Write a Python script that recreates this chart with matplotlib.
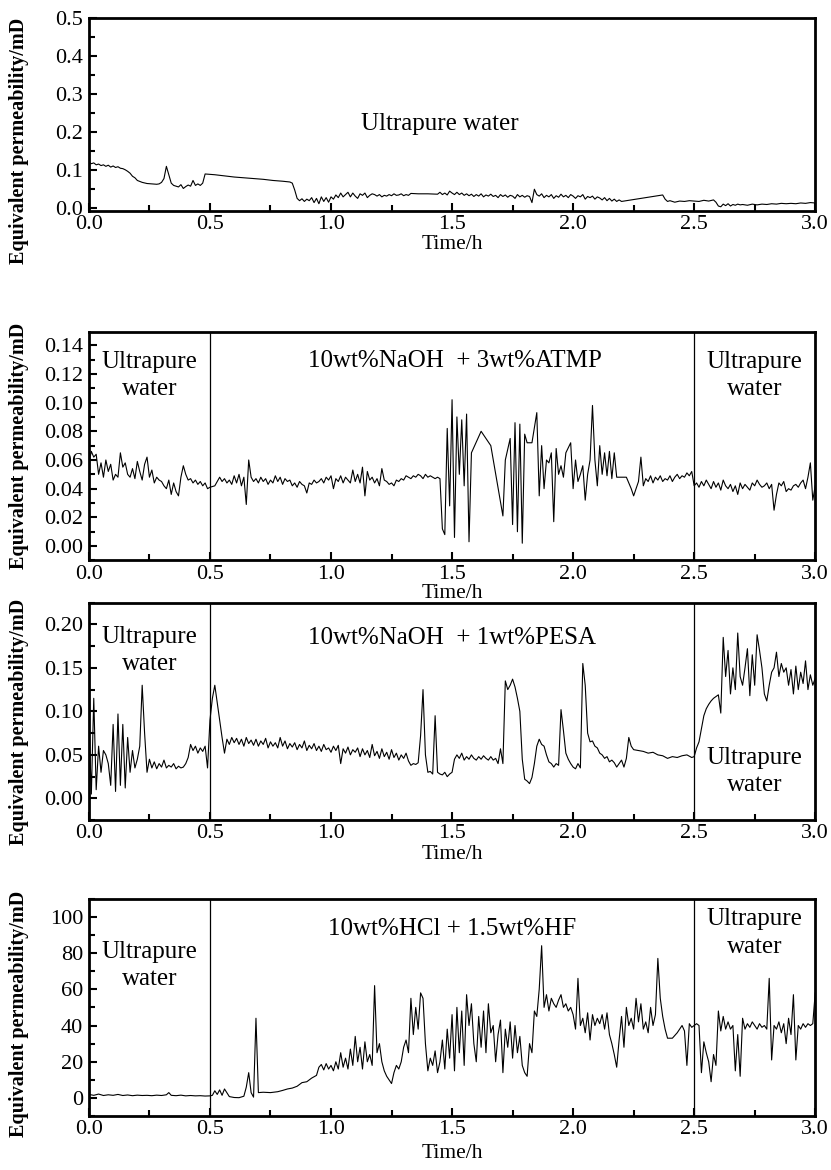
import matplotlib
matplotlib.use("Agg")
import matplotlib.pyplot as plt
from matplotlib.ticker import MultipleLocator

plt.rcParams['font.family'] = ['Liberation Serif', 'DejaVu Serif']

# ---- panel 1: ultrapure water only
t1 = [0.00, 0.01, 0.02, 0.03, 0.04, 0.05, 0.06, 0.07, 0.08, 0.09, 0.10, 0.11, 0.12, 0.13, 0.14,
      0.15, 0.16, 0.17, 0.18, 0.19, 0.20, 0.22, 0.24, 0.26, 0.28, 0.29, 0.30, 0.31, 0.32, 0.33,
      0.34, 0.35, 0.36, 0.37, 0.38, 0.39, 0.40, 0.41, 0.42, 0.43, 0.44, 0.45, 0.46, 0.47, 0.48,
      0.52, 0.56, 0.60, 0.64, 0.68, 0.72, 0.76, 0.80, 0.83, 0.84, 0.85, 0.86, 0.87, 0.88, 0.89,
      0.90, 0.91, 0.92, 0.93, 0.94, 0.95, 0.96, 0.97, 0.98, 0.99, 1.00, 1.01, 1.02, 1.03, 1.04,
      1.05, 1.06, 1.07, 1.08, 1.09, 1.10, 1.11, 1.12, 1.13, 1.14, 1.15, 1.16, 1.17, 1.18, 1.19,
      1.20, 1.21, 1.22, 1.23, 1.24, 1.25, 1.26, 1.27, 1.28, 1.29, 1.30, 1.31, 1.32, 1.33, 1.36,
      1.40, 1.44, 1.45, 1.46, 1.47, 1.48, 1.49, 1.50, 1.51, 1.52, 1.53, 1.54, 1.55, 1.56, 1.57,
      1.58, 1.59, 1.60, 1.61, 1.62, 1.63, 1.64, 1.65, 1.66, 1.67, 1.68, 1.69, 1.70, 1.71, 1.72,
      1.73, 1.74, 1.75, 1.76, 1.77, 1.78, 1.79, 1.80, 1.81, 1.82, 1.83, 1.84, 1.85, 1.86, 1.87,
      1.88, 1.89, 1.90, 1.91, 1.92, 1.93, 1.94, 1.95, 1.96, 1.97, 1.98, 1.99, 2.00, 2.01, 2.02,
      2.03, 2.04, 2.05, 2.06, 2.07, 2.08, 2.09, 2.10, 2.11, 2.12, 2.13, 2.14, 2.15, 2.16, 2.17,
      2.18, 2.19, 2.20, 2.25, 2.30, 2.35, 2.37, 2.38, 2.39, 2.40, 2.42, 2.44, 2.46, 2.48, 2.50,
      2.52, 2.54, 2.56, 2.58, 2.59, 2.60, 2.61, 2.62, 2.63, 2.64, 2.65, 2.66, 2.67, 2.68, 2.69,
      2.70, 2.72, 2.74, 2.76, 2.78, 2.80, 2.82, 2.84, 2.86, 2.88, 2.90, 2.92, 2.94, 2.96, 2.98, 3.00]
v1 = [0.121, 0.117, 0.119, 0.114, 0.116, 0.112, 0.114, 0.110, 0.113, 0.108, 0.111, 0.107, 0.109, 0.105, 0.104,
      0.101, 0.097, 0.092, 0.084, 0.080, 0.073, 0.068, 0.065, 0.064, 0.063, 0.064, 0.068, 0.078, 0.110, 0.088,
      0.066, 0.060, 0.058, 0.056, 0.062, 0.052, 0.057, 0.061, 0.058, 0.073, 0.060, 0.064, 0.060, 0.066, 0.090,
      0.088, 0.085, 0.082, 0.080, 0.078, 0.076, 0.073, 0.071, 0.069, 0.066, 0.048, 0.026, 0.020, 0.025, 0.018,
      0.024, 0.020, 0.028, 0.015, 0.026, 0.012, 0.030, 0.018, 0.028, 0.016, 0.030, 0.024, 0.035, 0.028, 0.040,
      0.030, 0.036, 0.042, 0.030, 0.040, 0.032, 0.026, 0.038, 0.034, 0.040, 0.028, 0.034, 0.038, 0.036, 0.032,
      0.036, 0.030, 0.034, 0.032, 0.036, 0.033, 0.038, 0.034, 0.035, 0.038, 0.033, 0.036, 0.034, 0.039, 0.038,
      0.038, 0.037, 0.042, 0.036, 0.040, 0.035, 0.045, 0.040, 0.036, 0.042, 0.036, 0.040, 0.034, 0.038, 0.033,
      0.037, 0.031, 0.036, 0.032, 0.038, 0.030, 0.035, 0.032, 0.037, 0.031, 0.034, 0.028, 0.036, 0.031, 0.035,
      0.029, 0.034, 0.032, 0.026, 0.036, 0.030, 0.034, 0.029, 0.033, 0.031, 0.015, 0.050, 0.036, 0.032, 0.038,
      0.028, 0.034, 0.030, 0.036, 0.026, 0.033, 0.029, 0.037, 0.030, 0.034, 0.028, 0.036, 0.032, 0.026, 0.033,
      0.030, 0.036, 0.024, 0.031, 0.028, 0.032, 0.024, 0.030, 0.027, 0.022, 0.028, 0.020, 0.026, 0.019, 0.024,
      0.018, 0.022, 0.018, 0.023, 0.028, 0.033, 0.035, 0.024, 0.018, 0.020, 0.016, 0.019, 0.018, 0.020, 0.019,
      0.018, 0.021, 0.019, 0.022, 0.016, 0.006, 0.004, 0.011, 0.007, 0.012, 0.006, 0.010, 0.008, 0.011, 0.009,
      0.010, 0.008, 0.011, 0.009, 0.011, 0.010, 0.012, 0.011, 0.013, 0.012, 0.013, 0.012, 0.014, 0.013, 0.015, 0.014]

# ---- panel 2: NaOH + ATMP
t2 = [0.00, 0.01, 0.02, 0.03, 0.04, 0.05, 0.06, 0.07, 0.08, 0.09, 0.10, 0.11, 0.12, 0.13, 0.14,
      0.15, 0.16, 0.17, 0.18, 0.19, 0.20, 0.21, 0.22, 0.23, 0.24, 0.25, 0.26, 0.27, 0.28, 0.29,
      0.30, 0.31, 0.32, 0.33, 0.34, 0.35, 0.36, 0.37, 0.38, 0.39, 0.40, 0.41, 0.42, 0.43, 0.44,
      0.45, 0.46, 0.47, 0.48, 0.49, 0.50, 0.52, 0.54, 0.55, 0.56, 0.57, 0.58, 0.59, 0.60, 0.61,
      0.62, 0.63, 0.64, 0.65, 0.66, 0.67, 0.68, 0.69, 0.70, 0.71, 0.72, 0.73, 0.74, 0.75, 0.76,
      0.77, 0.78, 0.79, 0.80, 0.81, 0.82, 0.83, 0.84, 0.85, 0.86, 0.87, 0.88, 0.89, 0.90, 0.91,
      0.92, 0.93, 0.94, 0.95, 0.96, 0.97, 0.98, 0.99, 1.00, 1.01, 1.02, 1.03, 1.04, 1.05, 1.06,
      1.07, 1.08, 1.09, 1.10, 1.11, 1.12, 1.13, 1.14, 1.15, 1.16, 1.17, 1.18, 1.19, 1.20, 1.21,
      1.22, 1.23, 1.24, 1.25, 1.26, 1.27, 1.28, 1.29, 1.30, 1.31, 1.32, 1.33, 1.34, 1.35, 1.36,
      1.37, 1.38, 1.39, 1.40, 1.41, 1.42, 1.43, 1.44, 1.45, 1.46, 1.47, 1.48, 1.49, 1.50, 1.51,
      1.52, 1.53, 1.54, 1.55, 1.56, 1.57, 1.58, 1.62, 1.66, 1.71, 1.72, 1.74, 1.75, 1.76, 1.77,
      1.78, 1.79, 1.80, 1.81, 1.83, 1.85, 1.86, 1.87, 1.88, 1.89, 1.90, 1.91, 1.92, 1.93, 1.94,
      1.95, 1.96, 1.97, 1.99, 2.00, 2.01, 2.02, 2.03, 2.04, 2.05, 2.06, 2.07, 2.08, 2.09, 2.10,
      2.11, 2.12, 2.13, 2.14, 2.15, 2.16, 2.17, 2.18, 2.22, 2.24, 2.25, 2.26, 2.27, 2.28, 2.29,
      2.30, 2.31, 2.32, 2.33, 2.34, 2.35, 2.36, 2.37, 2.38, 2.39, 2.40, 2.41, 2.42, 2.43, 2.44,
      2.45, 2.46, 2.47, 2.48, 2.49, 2.50, 2.51, 2.52, 2.53, 2.54, 2.55, 2.56, 2.57, 2.58, 2.59,
      2.60, 2.61, 2.62, 2.63, 2.64, 2.65, 2.66, 2.67, 2.68, 2.69, 2.70, 2.71, 2.72, 2.73, 2.74,
      2.75, 2.76, 2.77, 2.78, 2.79, 2.80, 2.81, 2.82, 2.83, 2.84, 2.85, 2.86, 2.87, 2.88, 2.89,
      2.90, 2.91, 2.92, 2.93, 2.94, 2.95, 2.96, 2.97, 2.98, 2.99, 3.00]
v2 = [0.058, 0.066, 0.062, 0.064, 0.050, 0.058, 0.048, 0.060, 0.052, 0.057, 0.046, 0.050, 0.048, 0.065, 0.055,
      0.058, 0.050, 0.048, 0.054, 0.047, 0.059, 0.052, 0.046, 0.057, 0.062, 0.048, 0.053, 0.044, 0.048, 0.046,
      0.045, 0.042, 0.040, 0.046, 0.036, 0.044, 0.038, 0.035, 0.048, 0.056, 0.050, 0.046, 0.047, 0.044, 0.046,
      0.043, 0.045, 0.042, 0.044, 0.040, 0.041, 0.042, 0.048, 0.045, 0.047, 0.044, 0.046, 0.043, 0.049, 0.044,
      0.050, 0.042, 0.048, 0.029, 0.060, 0.048, 0.045, 0.047, 0.044, 0.048, 0.045, 0.047, 0.043, 0.046, 0.044,
      0.049, 0.045, 0.048, 0.043, 0.047, 0.045, 0.046, 0.042, 0.044, 0.041, 0.045, 0.043, 0.042, 0.037, 0.044,
      0.043, 0.046, 0.044, 0.045, 0.047, 0.044, 0.048, 0.046, 0.049, 0.040, 0.047, 0.045, 0.049, 0.044, 0.048,
      0.046, 0.044, 0.053, 0.045, 0.050, 0.044, 0.055, 0.035, 0.052, 0.046, 0.048, 0.044, 0.047, 0.042, 0.054,
      0.046, 0.045, 0.043, 0.044, 0.042, 0.046, 0.045, 0.047, 0.046, 0.049, 0.048, 0.047, 0.049, 0.048, 0.050,
      0.049, 0.047, 0.050, 0.048, 0.049, 0.048, 0.047, 0.048, 0.047, 0.012, 0.008, 0.082, 0.028, 0.102, 0.006,
      0.090, 0.050, 0.088, 0.042, 0.092, 0.003, 0.065, 0.080, 0.070, 0.021, 0.060, 0.075, 0.015, 0.086, 0.010,
      0.085, 0.002, 0.078, 0.072, 0.072, 0.093, 0.035, 0.070, 0.040, 0.060, 0.058, 0.065, 0.017, 0.068, 0.050,
      0.056, 0.048, 0.065, 0.072, 0.040, 0.060, 0.045, 0.050, 0.056, 0.032, 0.050, 0.060, 0.098, 0.060, 0.042,
      0.070, 0.050, 0.065, 0.049, 0.066, 0.047, 0.065, 0.048, 0.048, 0.040, 0.035, 0.040, 0.045, 0.062, 0.042,
      0.047, 0.045, 0.049, 0.044, 0.048, 0.046, 0.049, 0.045, 0.047, 0.046, 0.049, 0.045, 0.048, 0.050, 0.047,
      0.049, 0.048, 0.051, 0.049, 0.052, 0.042, 0.044, 0.041, 0.045, 0.042, 0.046, 0.043, 0.040, 0.045, 0.041,
      0.044, 0.039, 0.046, 0.042, 0.040, 0.043, 0.038, 0.042, 0.036, 0.044, 0.040, 0.043, 0.041, 0.039, 0.044,
      0.042, 0.046, 0.043, 0.041, 0.042, 0.044, 0.040, 0.043, 0.025, 0.036, 0.044, 0.042, 0.045, 0.038, 0.040,
      0.039, 0.042, 0.043, 0.041, 0.044, 0.046, 0.040, 0.048, 0.058, 0.032, 0.042]

# ---- panel 3: NaOH + PESA
t3 = [0.00, 0.01, 0.02, 0.03, 0.04, 0.05, 0.06, 0.07, 0.08, 0.09, 0.10, 0.11, 0.12, 0.13, 0.14,
      0.15, 0.16, 0.17, 0.18, 0.19, 0.20, 0.21, 0.22, 0.23, 0.24, 0.25, 0.26, 0.27, 0.28, 0.29,
      0.30, 0.31, 0.32, 0.33, 0.34, 0.35, 0.36, 0.37, 0.38, 0.39, 0.40, 0.41, 0.42, 0.43, 0.44,
      0.45, 0.46, 0.47, 0.48, 0.49, 0.50, 0.51, 0.52, 0.53, 0.54, 0.55, 0.56, 0.57, 0.58, 0.59,
      0.60, 0.61, 0.62, 0.63, 0.64, 0.65, 0.66, 0.67, 0.68, 0.69, 0.70, 0.71, 0.72, 0.73, 0.74,
      0.75, 0.76, 0.77, 0.78, 0.79, 0.80, 0.81, 0.82, 0.83, 0.84, 0.85, 0.86, 0.87, 0.88, 0.89,
      0.90, 0.91, 0.92, 0.93, 0.94, 0.95, 0.96, 0.97, 0.98, 0.99, 1.00, 1.01, 1.02, 1.03, 1.04,
      1.05, 1.06, 1.07, 1.08, 1.09, 1.10, 1.11, 1.12, 1.13, 1.14, 1.15, 1.16, 1.17, 1.18, 1.19,
      1.20, 1.21, 1.22, 1.23, 1.24, 1.25, 1.26, 1.27, 1.28, 1.29, 1.30, 1.31, 1.32, 1.33, 1.34,
      1.35, 1.36, 1.37, 1.38, 1.39, 1.40, 1.41, 1.42, 1.43, 1.44, 1.45, 1.46, 1.47, 1.48, 1.49,
      1.50, 1.51, 1.52, 1.53, 1.54, 1.55, 1.56, 1.57, 1.58, 1.59, 1.60, 1.61, 1.62, 1.63, 1.64,
      1.65, 1.66, 1.67, 1.68, 1.69, 1.70, 1.71, 1.72, 1.73, 1.74, 1.75, 1.76, 1.77, 1.78, 1.79,
      1.80, 1.81, 1.82, 1.83, 1.84, 1.85, 1.86, 1.87, 1.88, 1.89, 1.90, 1.91, 1.92, 1.93, 1.94,
      1.95, 1.96, 1.97, 1.98, 1.99, 2.00, 2.01, 2.02, 2.03, 2.04, 2.05, 2.06, 2.07, 2.08, 2.09,
      2.10, 2.11, 2.12, 2.13, 2.14, 2.15, 2.16, 2.17, 2.18, 2.19, 2.20, 2.21, 2.22, 2.23, 2.24,
      2.25, 2.27, 2.29, 2.31, 2.33, 2.35, 2.37, 2.39, 2.41, 2.43, 2.45, 2.47, 2.49, 2.50, 2.51,
      2.52, 2.53, 2.54, 2.55, 2.56, 2.57, 2.58, 2.59, 2.60, 2.61, 2.62, 2.63, 2.64, 2.65, 2.66,
      2.67, 2.68, 2.69, 2.70, 2.71, 2.72, 2.73, 2.74, 2.75, 2.76, 2.77, 2.78, 2.79, 2.80, 2.81,
      2.82, 2.83, 2.84, 2.85, 2.86, 2.87, 2.88, 2.89, 2.90, 2.91, 2.92, 2.93, 2.94, 2.95, 2.96,
      2.97, 2.98, 2.99, 3.00]
v3 = [0.085, 0.005, 0.115, 0.010, 0.060, 0.030, 0.055, 0.050, 0.040, 0.015, 0.085, 0.008, 0.097, 0.015, 0.085,
      0.012, 0.070, 0.030, 0.055, 0.035, 0.045, 0.060, 0.130, 0.075, 0.030, 0.045, 0.035, 0.042, 0.034, 0.040,
      0.036, 0.044, 0.035, 0.038, 0.036, 0.040, 0.034, 0.037, 0.035, 0.036, 0.040, 0.047, 0.062, 0.055, 0.060,
      0.052, 0.058, 0.054, 0.060, 0.035, 0.090, 0.115, 0.130, 0.110, 0.090, 0.070, 0.052, 0.068, 0.062, 0.070,
      0.064, 0.069, 0.062, 0.068, 0.060, 0.070, 0.063, 0.067, 0.061, 0.068, 0.060, 0.066, 0.062, 0.069, 0.058,
      0.065, 0.060, 0.064, 0.058, 0.070, 0.060, 0.066, 0.057, 0.063, 0.059, 0.064, 0.056, 0.062, 0.058, 0.066,
      0.055, 0.061, 0.057, 0.063, 0.055, 0.060, 0.054, 0.062, 0.056, 0.058, 0.053, 0.060, 0.055, 0.061, 0.040,
      0.057, 0.052, 0.059, 0.050, 0.056, 0.053, 0.058, 0.048, 0.057, 0.050, 0.055, 0.047, 0.062, 0.049, 0.054,
      0.046, 0.057, 0.048, 0.053, 0.045, 0.056, 0.047, 0.052, 0.044, 0.050, 0.046, 0.052, 0.043, 0.038, 0.040,
      0.039, 0.041, 0.072, 0.125, 0.050, 0.030, 0.031, 0.028, 0.095, 0.030, 0.028, 0.027, 0.030, 0.025, 0.028,
      0.030, 0.045, 0.050, 0.046, 0.052, 0.044, 0.048, 0.045, 0.050, 0.046, 0.044, 0.048, 0.045, 0.049, 0.046,
      0.044, 0.048, 0.044, 0.046, 0.040, 0.057, 0.040, 0.135, 0.125, 0.130, 0.137, 0.128, 0.115, 0.100, 0.045,
      0.022, 0.020, 0.017, 0.024, 0.040, 0.060, 0.068, 0.062, 0.060, 0.050, 0.042, 0.040, 0.036, 0.040, 0.038,
      0.102, 0.078, 0.052, 0.045, 0.040, 0.036, 0.034, 0.040, 0.035, 0.155, 0.130, 0.075, 0.065, 0.066, 0.060,
      0.058, 0.052, 0.050, 0.046, 0.048, 0.042, 0.044, 0.041, 0.036, 0.040, 0.044, 0.036, 0.046, 0.070, 0.060,
      0.056, 0.055, 0.054, 0.052, 0.053, 0.050, 0.049, 0.046, 0.048, 0.047, 0.049, 0.050, 0.047, 0.048, 0.058,
      0.065, 0.080, 0.095, 0.103, 0.108, 0.112, 0.115, 0.117, 0.119, 0.098, 0.185, 0.140, 0.170, 0.120, 0.150,
      0.125, 0.190, 0.140, 0.130, 0.150, 0.172, 0.118, 0.165, 0.130, 0.188, 0.170, 0.150, 0.120, 0.112, 0.130,
      0.145, 0.150, 0.168, 0.140, 0.155, 0.145, 0.150, 0.130, 0.148, 0.120, 0.152, 0.125, 0.145, 0.132, 0.158,
      0.125, 0.142, 0.130, 0.138]

# ---- panel 4: HCl + HF
t4 = [0.00, 0.02, 0.04, 0.06, 0.08, 0.10, 0.12, 0.14, 0.16, 0.18, 0.20, 0.22, 0.24, 0.26, 0.28,
      0.30, 0.32, 0.33, 0.34, 0.36, 0.38, 0.40, 0.42, 0.44, 0.46, 0.48, 0.50, 0.51, 0.52, 0.53,
      0.54, 0.55, 0.56, 0.58, 0.60, 0.62, 0.64, 0.65, 0.66, 0.67, 0.68, 0.69, 0.70, 0.72, 0.75,
      0.78, 0.80, 0.82, 0.84, 0.86, 0.88, 0.90, 0.92, 0.94, 0.95, 0.96, 0.97, 0.98, 0.99, 1.00,
      1.01, 1.02, 1.03, 1.04, 1.05, 1.06, 1.07, 1.08, 1.09, 1.10, 1.11, 1.12, 1.13, 1.14, 1.15,
      1.16, 1.17, 1.18, 1.19, 1.20, 1.21, 1.22, 1.23, 1.24, 1.25, 1.26, 1.27, 1.28, 1.29, 1.30,
      1.31, 1.32, 1.33, 1.34, 1.35, 1.36, 1.37, 1.38, 1.39, 1.40, 1.41, 1.42, 1.43, 1.44, 1.45,
      1.46, 1.47, 1.48, 1.49, 1.50, 1.51, 1.52, 1.53, 1.54, 1.55, 1.56, 1.57, 1.58, 1.59, 1.60,
      1.61, 1.62, 1.63, 1.64, 1.65, 1.66, 1.67, 1.68, 1.69, 1.70, 1.71, 1.72, 1.73, 1.74, 1.75,
      1.76, 1.77, 1.78, 1.79, 1.80, 1.81, 1.82, 1.83, 1.84, 1.85, 1.86, 1.87, 1.88, 1.89, 1.90,
      1.91, 1.92, 1.93, 1.94, 1.95, 1.96, 1.97, 1.98, 1.99, 2.00, 2.01, 2.02, 2.03, 2.04, 2.05,
      2.06, 2.07, 2.08, 2.09, 2.10, 2.11, 2.12, 2.13, 2.14, 2.15, 2.16, 2.17, 2.18, 2.19, 2.20,
      2.21, 2.22, 2.23, 2.24, 2.25, 2.26, 2.27, 2.28, 2.29, 2.30, 2.31, 2.32, 2.33, 2.34, 2.35,
      2.36, 2.37, 2.38, 2.39, 2.41, 2.43, 2.44, 2.45, 2.46, 2.47, 2.48, 2.49, 2.50, 2.51, 2.52,
      2.53, 2.54, 2.55, 2.56, 2.57, 2.58, 2.59, 2.60, 2.61, 2.62, 2.63, 2.64, 2.65, 2.66, 2.67,
      2.68, 2.69, 2.70, 2.71, 2.72, 2.73, 2.74, 2.75, 2.76, 2.77, 2.78, 2.79, 2.80, 2.81, 2.82,
      2.83, 2.84, 2.85, 2.86, 2.87, 2.88, 2.89, 2.90, 2.91, 2.92, 2.93, 2.94, 2.95, 2.96, 2.97,
      2.98, 2.99, 3.00]
v4 = [2.0, 1.5, 2.2, 1.4, 1.8, 1.5, 2.0, 1.4, 1.7, 1.3, 1.6, 1.4, 1.5, 1.3, 1.6,
      1.4, 1.8, 3.0, 1.5, 1.3, 1.6, 1.2, 1.4, 1.2, 1.3, 1.1, 1.2, 1.5, 4.0, 2.0,
      4.5, 1.5, 5.0, 0.8, 0.3, 0.2, 1.0, 6.0, 14.0, 3.0, 0.5, 44.0, 3.0, 3.2, 3.0,
      3.5, 4.2, 5.0, 5.5, 6.5, 8.5, 9.0, 11.0, 12.5, 17.0, 18.5, 15.5, 19.0, 16.0, 18.0,
      15.0, 20.0, 16.0, 25.0, 17.0, 22.0, 16.0, 27.0, 18.0, 34.0, 20.0, 28.0, 16.0, 31.0, 20.0,
      24.0, 18.0, 62.0, 25.0, 30.0, 20.0, 15.0, 12.0, 10.0, 8.0, 14.0, 18.0, 16.0, 20.0, 28.0,
      32.0, 25.0, 55.0, 35.0, 50.0, 38.0, 58.0, 55.0, 30.0, 15.0, 22.0, 18.0, 26.0, 14.0, 20.0,
      32.0, 16.0, 38.0, 22.0, 46.0, 15.0, 50.0, 25.0, 48.0, 18.0, 57.0, 40.0, 52.0, 30.0, 20.0,
      45.0, 28.0, 48.0, 25.0, 52.0, 36.0, 40.0, 20.0, 35.0, 43.0, 14.0, 38.0, 28.0, 42.0, 22.0,
      40.0, 25.0, 34.0, 18.0, 14.0, 12.0, 30.0, 25.0, 48.0, 45.0, 60.0, 84.0, 50.0, 57.0, 48.0,
      55.0, 52.0, 50.0, 54.0, 57.0, 50.0, 52.0, 48.0, 50.0, 46.0, 38.0, 66.0, 40.0, 44.0, 36.0,
      47.0, 32.0, 46.0, 40.0, 44.0, 41.0, 46.0, 38.0, 47.0, 35.0, 30.0, 24.0, 17.0, 32.0, 45.0,
      28.0, 50.0, 40.0, 44.0, 38.0, 55.0, 42.0, 52.0, 38.0, 42.0, 36.0, 50.0, 40.0, 46.0, 77.0,
      55.0, 45.0, 38.0, 33.0, 33.0, 36.0, 38.0, 40.0, 37.0, 18.0, 41.0, 39.0, 40.0, 41.0, 40.0,
      14.0, 31.0, 25.0, 20.0, 9.0, 24.0, 18.0, 48.0, 37.0, 45.0, 38.0, 42.0, 38.0, 40.0, 15.0,
      35.0, 12.0, 44.0, 38.0, 41.0, 39.0, 42.0, 40.0, 38.0, 41.0, 39.0, 40.0, 38.0, 66.0, 21.0,
      40.0, 38.0, 42.0, 36.0, 41.0, 30.0, 44.0, 35.0, 57.0, 21.0, 40.0, 38.0, 41.0, 39.0, 41.0,
      40.0, 41.0, 58.0]

# axis settings per panel
ylims = [(-0.006, 0.5), (-0.01, 0.149), (-0.025, 0.225), (-10, 110)]
ymajor = [0.1, 0.02, 0.05, 20]
yfmt = ['%.1f', '%.2f', '%.2f', '%d']
ylab_y = [0.36, 0.5, 0.45, 0.47]
xlab_pad = [1, 0.5, 1, 3]
positions = [(0.107, 0.820, 0.874, 0.165),
             (0.107, 0.521, 0.874, 0.195),
             (0.107, 0.299, 0.874, 0.186),
             (0.107, 0.046, 0.874, 0.186)]

fig = plt.figure(figsize=(8.31, 11.70), dpi=100)
axes = []
for i, (t, v) in enumerate([(t1, v1), (t2, v2), (t3, v3), (t4, v4)]):
    ax = fig.add_axes(positions[i])
    ax.plot(t, v, color='black', lw=0.8)
    ax.set_xlim(0, 3.0)
    ax.set_ylim(*ylims[i])
    ax.xaxis.set_major_locator(MultipleLocator(0.5))
    ax.xaxis.set_minor_locator(MultipleLocator(0.25))
    ax.yaxis.set_major_locator(MultipleLocator(ymajor[i]))
    ax.yaxis.set_minor_locator(MultipleLocator(ymajor[i] / 2))
    ax.yaxis.set_major_formatter(plt.FormatStrFormatter(yfmt[i]))
    ax.tick_params(which='both', direction='in', top=False, right=False, labelsize=16, width=1.5)
    ax.tick_params(which='major', length=6, pad=3)
    ax.tick_params(which='minor', length=4)
    ax.tick_params(axis='y', which='major', pad=4)
    for s in ax.spines.values():
        s.set_linewidth(2)
    ax.set_xlabel('Time/h', fontsize=15.5, labelpad=xlab_pad[i])
    ax.set_ylabel('Equivalent permeability/mD', fontsize=14.5, fontweight='bold')
    ax.yaxis.set_label_coords(-0.083, ylab_y[i])
    if i > 0:
        ax.axvline(0.5, color='black', lw=0.9)
        ax.axvline(2.5, color='black', lw=0.9)
    axes.append(ax)

fs = 18
ls = 1.3
axes[0].text(1.45, 0.222, 'Ultrapure water', ha='center', va='center', fontsize=fs)

axes[1].text(0.25, 0.119, 'Ultrapure\nwater', ha='center', va='center', fontsize=fs, linespacing=ls)
axes[1].text(1.51, 0.129, '10wt%NaOH  + 3wt%ATMP', ha='center', va='center', fontsize=fs)
axes[1].text(2.75, 0.119, 'Ultrapure\nwater', ha='center', va='center', fontsize=fs, linespacing=ls)

axes[2].text(0.25, 0.170, 'Ultrapure\nwater', ha='center', va='center', fontsize=fs, linespacing=ls)
axes[2].text(1.5, 0.184, '10wt%NaOH  + 1wt%PESA', ha='center', va='center', fontsize=fs)
axes[2].text(2.75, 0.031, 'Ultrapure\nwater', ha='center', va='center', fontsize=fs, linespacing=ls)

axes[3].text(0.25, 73, 'Ultrapure\nwater', ha='center', va='center', fontsize=fs, linespacing=ls)
axes[3].text(1.5, 93, '10wt%HCl + 1.5wt%HF', ha='center', va='center', fontsize=fs)
axes[3].text(2.75, 91, 'Ultrapure\nwater', ha='center', va='center', fontsize=fs, linespacing=ls)

fig.savefig('out.png', dpi=100)
